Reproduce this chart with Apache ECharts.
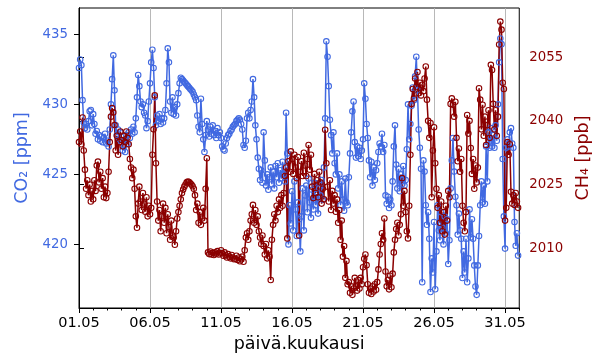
<!DOCTYPE html>
<html>
<head>
<meta charset="utf-8">
<script src="https://cdn.jsdelivr.net/npm/echarts@6/dist/echarts.min.js"></script>
<style>
html,body{margin:0;padding:0;background:#fff;}
#chart{width:600px;height:360px;}
</style>
</head>
<body>
<div id="chart"></div>
<script>
// Sampling: every 2 hours starting 01.05 00:00 (x in days since 01.05)
const stepHours = 2;
const xTickDays = [0, 5, 10, 15, 20, 25, 30];
const xTickLabels = ['01.05', '06.05', '11.05', '16.05', '21.05', '26.05', '31.05'];
const co2Ticks = [420, 425, 430, 435];
const ch4Ticks = [2010, 2025, 2040, 2055];

// CO2 [ppm], one row per day (12 samples / day)
const co2 = [
432.6, 433.2, 432.8, 430.3, 428.7, 428.3, 428.6, 428.2, 428.8, 429.5, 429.6, 428.5,
429.3, 428.6, 427.9, 428.1, 427.5, 427.8, 427.4, 427.7, 427.3, 427.6, 427.9, 427.2,
427.4, 427.0, 428.2, 430.0, 431.8, 433.5, 431.0, 428.5, 427.8, 428.2, 427.5, 428.0,
427.3, 426.7, 427.0, 426.6, 427.8, 427.2, 428.0, 427.6, 428.2, 427.9, 428.4, 428.0,
429.0, 430.5, 432.1, 431.3, 430.2, 429.8, 430.0, 429.4, 429.2, 428.3, 428.8, 430.2,
431.5, 433.0, 433.9, 432.6, 430.5, 428.5, 429.2, 428.8, 429.3, 428.6, 429.0, 428.7,
429.0, 429.6, 431.5, 434.0, 433.0, 430.2, 429.4, 430.5, 429.3, 429.8, 429.2, 430.0,
430.8, 431.5, 431.9, 431.8, 431.7, 431.6, 431.5, 431.4, 431.3, 431.2, 431.1, 431.0,
430.9, 430.7, 430.5, 430.3, 429.2, 428.4, 428.0, 430.4, 428.6, 427.5, 426.6, 427.8,
428.8, 428.2, 427.7, 428.4, 427.9, 428.5, 427.8, 428.1, 427.6, 428.3, 427.8, 428.0,
427.6, 427.0, 426.8, 426.7, 427.2, 427.6, 427.8, 427.9, 428.1, 428.2, 428.4, 428.5,
428.6, 428.8, 428.9, 429.0, 428.9, 428.6, 428.2, 427.1, 426.9, 427.4, 429.0, 429.4,
429.0, 429.6, 430.2, 431.8, 430.5, 428.5, 427.5, 426.2, 425.4, 424.6, 425.3, 424.4,
428.0, 426.0, 424.2, 425.0, 423.9, 424.8, 425.5, 424.3, 425.2, 424.0, 425.6, 424.8,
425.8, 424.4, 425.3, 424.7, 425.9, 425.0, 424.5, 429.4, 426.5, 420.0, 422.8, 421.5,
423.8, 421.0, 424.5, 422.5, 420.6, 423.0, 421.8, 419.5, 422.0, 424.0, 421.0, 423.5,
424.2, 422.3, 424.7, 423.0, 421.9, 423.9, 422.5, 424.4, 422.8, 423.6, 422.2, 424.0,
423.5, 424.6, 423.2, 425.5, 429.0, 434.5, 433.4, 431.3, 428.9, 427.8, 426.5, 428.0,
425.8, 425.0, 426.5, 424.0, 425.0, 422.8, 424.5, 423.2, 422.4, 424.7, 423.0, 422.8,
424.8, 426.5, 428.0, 429.5, 430.2, 427.3, 426.2, 427.0, 426.3, 426.9, 426.1, 426.7,
427.5, 431.5, 430.4, 428.6, 427.6, 426.0, 424.8, 425.9, 424.2, 425.5, 424.6, 425.3,
425.8, 426.6, 427.2, 427.0, 427.9, 426.6, 427.1, 423.5, 422.9, 423.4, 422.6, 423.2,
422.8, 424.5, 427.0, 428.5, 425.7, 424.0, 425.4, 423.8, 425.0, 424.3, 425.6, 424.2,
424.6, 426.8, 430.0, 427.5, 428.6, 429.9, 431.2, 430.3, 432.0, 433.4, 431.0, 428.2,
426.9, 425.4, 417.3, 426.0, 425.2, 422.8, 421.4, 422.3, 420.4, 416.6, 419.0, 418.0,
421.6, 416.8, 419.5, 422.8, 421.0, 420.3, 422.3, 421.2, 420.0, 422.0, 420.8, 421.8,
418.6, 420.3, 424.0, 426.0, 427.6, 425.2, 423.4, 422.8, 420.7, 422.2, 421.0, 420.4,
417.6, 419.5, 418.0, 420.4, 417.3, 419.0, 422.5, 420.5, 421.8, 420.4, 418.5, 417.0,
416.4, 418.5, 420.6, 422.8, 424.5, 423.0, 424.2, 422.9, 427.0, 424.5, 428.0, 426.9,
428.3, 427.0, 427.8, 426.9, 428.5, 427.4, 430.0, 433.0, 434.7, 434.3, 426.1, 422.0,
419.7, 426.9, 427.5, 427.0, 428.0, 428.3, 427.2, 426.9, 421.6, 419.9, 420.8, 419.2
];

// CH4 [ppb], one row per day (12 samples / day)
const ch4 = [
2035.0, 2037.5, 2034.5, 2040.8, 2033.0, 2028.5, 2024.0, 2026.0, 2022.5, 2025.0, 2021.0, 2023.5,
2021.5, 2026.0, 2023.5, 2029.5, 2030.4, 2025.5, 2028.0, 2024.0, 2026.5, 2022.0, 2024.5, 2021.8,
2023.0, 2028.0, 2035.0, 2041.0, 2043.0, 2042.0, 2039.0, 2033.0, 2036.5, 2032.0, 2035.0, 2037.5,
2035.5, 2034.0, 2036.5, 2035.0, 2037.5, 2036.0, 2034.5, 2031.0, 2029.0, 2026.5, 2028.5, 2024.0,
2017.5, 2014.8, 2020.5, 2024.5, 2021.0, 2019.0, 2023.0, 2020.5, 2018.6, 2022.0, 2017.5, 2020.0,
2018.0, 2019.5, 2032.0, 2038.0, 2046.0, 2030.0, 2021.0, 2016.5, 2019.0, 2014.0, 2017.5, 2020.5,
2016.0, 2019.5, 2013.5, 2018.0, 2015.0, 2012.0, 2016.5, 2013.0, 2012.5, 2010.8, 2014.0, 2017.0,
2018.5, 2020.0, 2021.5, 2023.0, 2023.8, 2024.5, 2025.0, 2025.5, 2025.7, 2025.6, 2025.3, 2025.0,
2024.6, 2024.0, 2022.5, 2019.0, 2020.5, 2016.0, 2018.5, 2015.5, 2017.0, 2019.5, 2016.5, 2024.0,
2031.2, 2009.0, 2008.6, 2009.2, 2008.5, 2008.9, 2008.4, 2009.0, 2008.7, 2009.3, 2008.5, 2008.8,
2009.5, 2008.8, 2008.2, 2009.0, 2008.3, 2007.8, 2008.6, 2008.0, 2007.6, 2008.4, 2007.8, 2007.4,
2007.5, 2008.2, 2007.2, 2007.8, 2006.9, 2007.4, 2008.0, 2006.8, 2009.5, 2012.5, 2013.5, 2012.0,
2014.0, 2016.5, 2018.0, 2020.2, 2016.0, 2019.0, 2015.5, 2017.5, 2014.0, 2012.5, 2011.0, 2013.0,
2010.5, 2008.5, 2011.0, 2007.6, 2009.5, 2008.0, 2002.5, 2012.0, 2015.5, 2018.0, 2016.5, 2020.0,
2018.5, 2021.5, 2019.5, 2022.5, 2020.0, 2023.0, 2027.0, 2029.0, 2012.3, 2030.5, 2028.0, 2032.8,
2031.0, 2027.5, 2032.0, 2029.0, 2026.5, 2031.5, 2013.0, 2028.0, 2030.5, 2027.0, 2032.5, 2029.5,
2027.0, 2031.0, 2034.3, 2028.5, 2032.0, 2024.5, 2021.8, 2027.5, 2023.0, 2026.0, 2022.0, 2028.0,
2025.5, 2020.5, 2024.0, 2021.5, 2037.9, 2030.0, 2024.5, 2021.0, 2026.0, 2019.0, 2023.5, 2020.5,
2022.5, 2018.6, 2021.5, 2016.0, 2019.0, 2012.0, 2016.5, 2008.0, 2010.5, 2003.0, 2007.0, 2001.5,
2002.0, 1999.5, 2001.0, 1999.0, 2000.5, 2003.0, 2001.0, 2000.0, 2002.5, 2000.5, 2003.0, 2001.5,
2005.5, 2007.5, 2008.5, 2006.0, 2001.5, 1999.5, 2000.5, 1999.2, 2001.0, 1999.8, 2001.5, 2000.2,
2002.0, 2005.0, 2008.5, 2011.0, 2013.5, 2012.0, 2017.0, 2004.5, 2001.0, 2002.5, 2000.3, 2003.5,
2000.8, 2004.0, 2009.0, 2012.0, 2014.5, 2016.0, 2013.0, 2015.5, 2018.0, 2026.5, 2020.0, 2023.5,
2018.5, 2014.0, 2012.3, 2020.0, 2032.0, 2044.0, 2047.5, 2045.3, 2050.0, 2048.0, 2051.5, 2046.5,
2049.0, 2046.0, 2048.5, 2047.0, 2050.0, 2052.8, 2045.0, 2040.0, 2036.0, 2039.5, 2022.0, 2033.0,
2038.5, 2030.0, 2024.0, 2019.5, 2022.5, 2016.0, 2021.0, 2014.0, 2018.5, 2013.2, 2020.0, 2016.5,
2023.5, 2022.0, 2044.0, 2045.3, 2043.8, 2041.0, 2044.5, 2036.0, 2030.5, 2033.5, 2028.0, 2031.0,
2020.0, 2016.0, 2014.0, 2018.5, 2041.4, 2037.0, 2040.0, 2033.6, 2027.5, 2031.0, 2024.0, 2029.5,
2025.5, 2029.0, 2047.7, 2045.0, 2038.0, 2043.8, 2036.5, 2041.0, 2034.3, 2039.0, 2042.5, 2036.0,
2053.2, 2052.0, 2044.0, 2038.0, 2042.5, 2036.5, 2041.0, 2058.0, 2063.4, 2061.5, 2049.0, 2047.5,
2016.5, 2019.5, 2035.0, 2032.0, 2034.5, 2023.3, 2020.5, 2022.5, 2020.2, 2023.0, 2021.0, 2019.5
];

const BLUE = '#4169E1';
const RED = '#8B0000';
const FONT = 'DejaVu Sans';

const days = co2.map((_, i) => i * stepHours / 24);
const co2Data = co2.map((v, i) => [days[i], v]);
const ch4Data = ch4.map((v, i) => [days[i], v]);
const dailyTicks = Array.from({length: 32}, (_, i) => i);

const chart = echarts.init(document.getElementById('chart'), null, {renderer: 'canvas'});
chart.setOption({
  animation: false,
  backgroundColor: '#fff',
  grid: {left: 79, right: 78, top: 8, bottom: 52, show: true, borderColor: '#000', borderWidth: 1, containLabel: false},
  xAxis: [{
    type: 'value', min: 0, max: 31, interval: 5, position: 'bottom',
    name: 'päivä.kuukausi', nameLocation: 'middle', nameGap: 27,
    nameTextStyle: {fontFamily: FONT, fontSize: 17.5, color: '#000'},
    axisLine: {show: true, lineStyle: {color: '#000', width: 1}},
    axisTick: {show: true, length: 5, customValues: xTickDays, lineStyle: {color: '#000'}},
    axisLabel: {show: true, margin: 8, customValues: xTickDays, fontFamily: FONT, fontSize: 14.5, color: '#000',
      formatter: v => xTickLabels[xTickDays.indexOf(Math.round(v))] || ''},
    splitLine: {show: true, lineStyle: {color: '#b0b0b0', width: 0.9}}
  }, {
    type: 'value', min: 0, max: 31, interval: 1, position: 'bottom',
    axisLine: {show: false},
    axisTick: {show: true, length: 2.5, customValues: dailyTicks, lineStyle: {color: '#000'}},
    axisLabel: {show: false},
    splitLine: {show: false}
  }],
  yAxis: [{
    type: 'value', min: 415.46, max: 436.88, position: 'left',
    name: 'CO₂ [ppm]', nameLocation: 'middle', nameRotate: 90, nameGap: 46,
    nameTextStyle: {fontFamily: FONT, fontSize: 17.5, color: BLUE},
    axisLine: {show: true, lineStyle: {color: '#000', width: 1}},
    axisTick: {show: true, length: 5, customValues: co2Ticks, lineStyle: {color: '#000'}},
    axisLabel: {show: true, margin: 11, customValues: co2Ticks, fontFamily: FONT, fontSize: 13.3, color: BLUE,
      formatter: v => String(Math.round(v))},
    splitLine: {show: false}
  }, {
    type: 'value', min: 1995.9, max: 2066.6, position: 'right',
    name: 'CH₄ [ppb]', nameLocation: 'middle', nameRotate: 90, nameGap: 54,
    nameTextStyle: {fontFamily: FONT, fontSize: 17.5, color: RED},
    axisLine: {show: true, lineStyle: {color: '#000', width: 1}},
    axisTick: {show: true, length: 5, customValues: ch4Ticks, lineStyle: {color: '#000'}},
    axisLabel: {show: true, margin: 10, customValues: ch4Ticks, fontFamily: FONT, fontSize: 13.3, color: RED,
      formatter: v => String(Math.round(v))},
    splitLine: {show: false}
  }],
  series: [{
    type: 'line', name: 'CO2', xAxisIndex: 0, yAxisIndex: 0, data: co2Data,
    symbol: 'circle', symbolSize: 5.5, showSymbol: true,
    itemStyle: {color: 'rgba(0,0,0,0)', borderColor: BLUE, borderWidth: 1.1},
    lineStyle: {color: BLUE, width: 1.5},
    emphasis: {disabled: true}
  }, {
    type: 'line', name: 'CH4', xAxisIndex: 0, yAxisIndex: 1, data: ch4Data,
    symbol: 'circle', symbolSize: 5.5, showSymbol: true,
    itemStyle: {color: 'rgba(0,0,0,0)', borderColor: RED, borderWidth: 1.1},
    lineStyle: {color: RED, width: 1.5},
    emphasis: {disabled: true}
  }]
});
</script>
</body>
</html>
